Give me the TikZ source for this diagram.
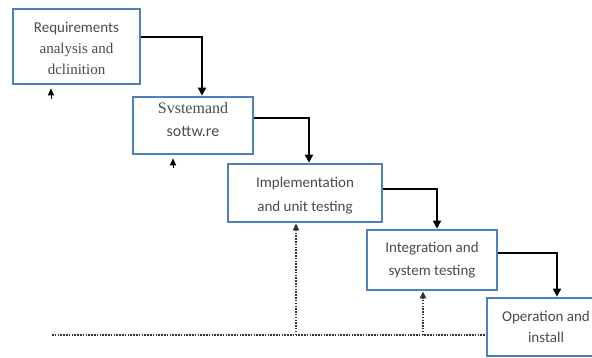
\documentclass[tikz,border=0pt]{standalone}
\usepackage{fontspec}
\setmainfont{Liberation Serif}
\newfontfamily\carfont{Carlito}
\usetikzlibrary{arrows.meta}
\definecolor{boxblue}{RGB}{79,129,189}
\definecolor{txtgray}{RGB}{75,75,75}
\tikzset{
  stagebox/.style={draw=boxblue, line width=2.6pt, fill=white, inner sep=0pt,
    align=center, text=txtgray},
  conn/.style={draw=black, line width=1.6pt, -{Triangle[length=8pt,width=8pt]}},
  fbline/.style={draw=black!80, line width=1.8pt, dash pattern=on 1.5pt off 1.3pt},
  fbarrow/.style={fbline, -{Triangle[length=7pt,width=6pt]}},
}
\begin{document}
\begin{tikzpicture}[x=1pt,y=-1pt]
\useasboundingbox (0,0) rectangle (592,358);
\node[stagebox, minimum width=127pt, minimum height=75pt,
  font={\fontsize{15}{21}\selectfont}] (b1) at (76.5,46.5)
  {\mbox{}\\[-6pt]{\carfont Requirements}\\analysis and\\dclinition};
\node[stagebox, minimum width=120pt, minimum height=57pt,
  font={\fontsize{16}{23}\selectfont}] (b2) at (193,125.5)
  {Svstemand\\{\carfont sottw.re}\\[-11pt]};
\node[stagebox, minimum width=154pt, minimum height=58pt,
  font={\fontsize{15}{24}\selectfont\carfont}] (b3) at (305,193)
  {\mbox{}\\[-9pt]Implementation\\and unit testing};
\node[stagebox, minimum width=130pt, minimum height=60pt,
  font={\fontsize{15}{23}\selectfont\carfont}] (b4) at (432,260)
  {Integration and\\system testing};
\node[stagebox, minimum width=118pt, minimum height=58pt,
  font={\fontsize{15}{21}\selectfont\carfont}] (b5) at (546,327)
  {Operation and\\install};
% forward connectors
\draw[conn] ([yshift=9.5pt]b1.east) -| ([xshift=9pt]b2.north);
\draw[conn] ([yshift=7.5pt]b2.east) -| ([xshift=4pt]b3.north);
\draw[conn] ([yshift=4pt]b3.east) -| ([xshift=5pt]b4.north);
\draw[conn] ([yshift=7pt]b4.east) -| ([xshift=11pt]b5.north);
% feedback
\coordinate (fL) at (52,335);
\coordinate (f3) at (296,335);
\coordinate (f4) at (423,335);
\coordinate (s1) at (51,99);
\coordinate (s2) at (173,168);
\draw[fbline] (fL) -- (fL -| b5.west);
\draw[fbarrow] (f3) -- (f3 |- b3.south);
\draw[fbarrow] (f4) -- (f4 |- b4.south);
\draw[line width=1pt, -{Triangle[length=7pt,width=6pt]}] (s1) -- ([yshift=-3pt]s1 |- b1.south);
\draw[line width=1pt, -{Triangle[length=7pt,width=6pt]}] (s2) -- ([yshift=-3pt]s2 |- b2.south);
\end{tikzpicture}
\end{document}
